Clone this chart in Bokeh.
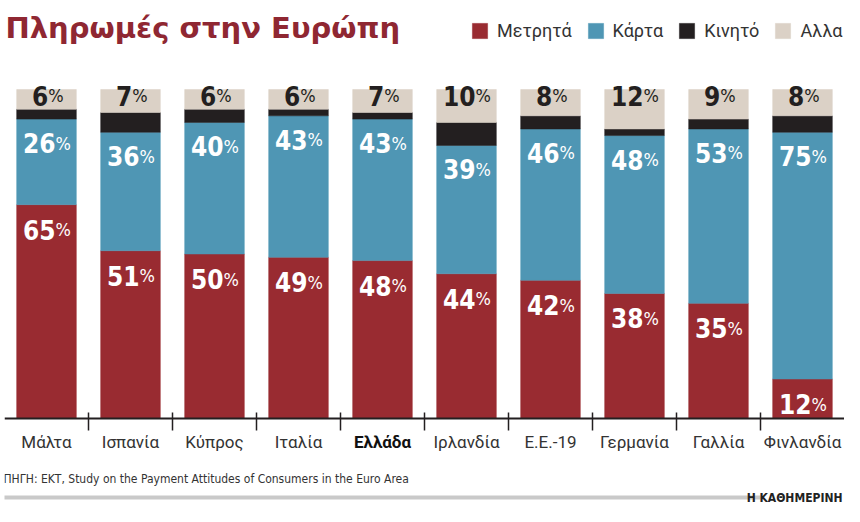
from bokeh.plotting import figure
from bokeh.models import (ColumnDataSource, FactorRange, Range1d, Span, Label,
                          Legend, LegendItem, BoxAnnotation)
from bokeh.transform import dodge
from bokeh.core.properties import value
from bokeh.embed import file_html
from bokeh.resources import INLINE

# ---------------- data ----------------
countries = ["Μάλτα", "Ισπανία", "Κύπρος", "Ιταλία", "Ελλάδα",
             "Ιρλανδία", "Ε.Ε.-19", "Γερμανία", "Γαλλία", "Φινλανδία"]
cash   = [65, 51, 50, 49, 48, 44, 42, 38, 35, 12]
card   = [26, 36, 40, 43, 43, 39, 46, 48, 53, 75]
mobile = [3, 6, 4, 2, 2, 7, 4, 2, 3, 5]
other  = [6, 7, 6, 6, 7, 10, 8, 12, 9, 8]
series_keys = ["cash", "card", "mobile", "other"]
series_names = ["Μετρητά", "Κάρτα", "Κινητό", "Αλλα"]
highlight = "Ελλάδα"
title_text = "Πληρωμές στην Ευρώπη"
source_text = "ΠΗΓΗ: ΕΚΤ, Study on the Payment Attitudes of Consumers in the Euro Area"
brand_text = "Η ΚΑΘΗΜΕΡΙΝΗ"

# ---------------- style / layout ----------------
colors = ["#992b31", "#4f96b4", "#231f20", "#dbd1c6"]
TITLE_COLOR = "#8f2732"
NARROW = "DejaVu Sans Condensed"
SANS = "Roboto"
W, H = 844, 506
LEFT = 4
PXY = 3.29                 # pixels per percentage point
BAR_TOP_PX = 89            # pixel row of 100%
Y_TOP = 100 + BAR_TOP_PX / PXY
Y_BOT = Y_TOP - H / PXY
PXX = (W - LEFT) / len(countries)


def sx(px):
    return (px - LEFT) / PXX


def sy(py):
    return Y_TOP - py / PXY


src = ColumnDataSource(dict(country=countries, cash=cash, card=card,
                            mobile=mobile, other=other))

p = figure(width=W, height=H, x_range=FactorRange(*countries, range_padding=0),
           y_range=Range1d(Y_BOT, Y_TOP), min_border=0, min_border_left=LEFT,
           toolbar_location=None, output_backend="svg",
           x_axis_location=None, y_axis_location=None,
           background_fill_color="white", border_fill_color="white")
p.grid.visible = False
p.outline_line_color = None

rs = p.vbar_stack(series_keys, x="country", width=0.71, color=colors,
                  line_width=0.5, source=src)

# axis line and ticks between categories
p.add_layout(Span(location=0, dimension="width", line_color="#231f20", line_width=2))
tick_src = ColumnDataSource(dict(country=countries[:-1]))
p.segment(x0=dodge("country", 0.5, range=p.x_range), x1=dodge("country", 0.5, range=p.x_range),
          y0=6 / PXY, y1=-12 / PXY, line_color="#231f20", line_width=1.5, source=tick_src)

# category labels
cat_src = ColumnDataSource(dict(
    country=countries,
    style=["bold" if c == highlight else "normal" for c in countries],
    color=["#111111" if c == highlight else "#333333" for c in countries]))
p.text(x="country", y=0, text="country", y_offset=23, text_align="center",
       text_baseline="alphabetic", text_font=value(SANS), text_font_size="17px",
       text_font_style="style", text_color="color", source=cat_src)

# value labels
lc, ly, ln, lcol, lyo, lxo = [], [], [], [], [], []
for i, c in enumerate(countries):
    tops = [cash[i], cash[i] + card[i], cash[i] + card[i] + mobile[i] + other[i]]
    vals = [cash[i], card[i], other[i]]
    cols = ["white", "white", "#231f20"]
    yoffs = [25, 24, 6]
    for t, v, col, yo in zip(tops, vals, cols, yoffs):
        nd = len(str(v))
        lc.append(c); ly.append(t); ln.append(str(v)); lcol.append(col)
        lyo.append(yo); lxo.append((14.5 * nd - 15) / 2 + 2)
lab = ColumnDataSource(dict(country=lc, y=ly, num=ln, pct=["%"] * len(ln),
                            color=lcol, yoff=lyo, xoff=lxo))
p.text(x="country", y="y", text="num", x_offset="xoff", y_offset="yoff",
       text_align="right", text_baseline="alphabetic", text_font=value(NARROW),
       text_font_style="bold", text_font_size="26px", text_color="color", source=lab)
p.text(x="country", y="y", text="pct", x_offset="xoff", y_offset="yoff",
       text_align="left", text_baseline="alphabetic", text_font=value(NARROW),
       text_font_style="normal", text_font_size="18px", text_color="color", source=lab)

# legend
legend = Legend(items=[LegendItem(label=n, renderers=[r]) for n, r in zip(series_names, rs)],
                orientation="horizontal", location=(466, H - 41),
                glyph_width=19, glyph_height=19, label_standoff=8, spacing=14,
                padding=0, margin=0, border_line_color=None, background_fill_alpha=0,
                label_text_font=SANS, label_text_font_size="18px",
                label_text_color="#333333", label_height=19)
p.add_layout(legend)

# title
p.add_layout(Label(x=sx(5), y=sy(27), text=title_text, text_font="DejaVu Sans",
                   text_font_style="bold", text_font_size="29px",
                   text_color=TITLE_COLOR, text_baseline="alphabetic"))
# source note
p.add_layout(Label(x=sx(3), y=sy(478), text=source_text, text_font=NARROW,
                   text_font_size="12px", text_color="#333333",
                   text_baseline="alphabetic"))
# grey rule and brand
p.add_layout(BoxAnnotation(left=sx(3), right=sx(760), top=sy(495), bottom=sy(499),
                           fill_color="#c9c9c9", fill_alpha=1, line_color=None))
p.add_layout(Label(x=sx(842), y=sy(497), text=brand_text, text_font=NARROW,
                   text_font_style="bold", text_font_size="12px", text_color="#222222",
                   text_align="right", text_baseline="alphabetic"))

open("out.html", "w").write(file_html(p, INLINE))
